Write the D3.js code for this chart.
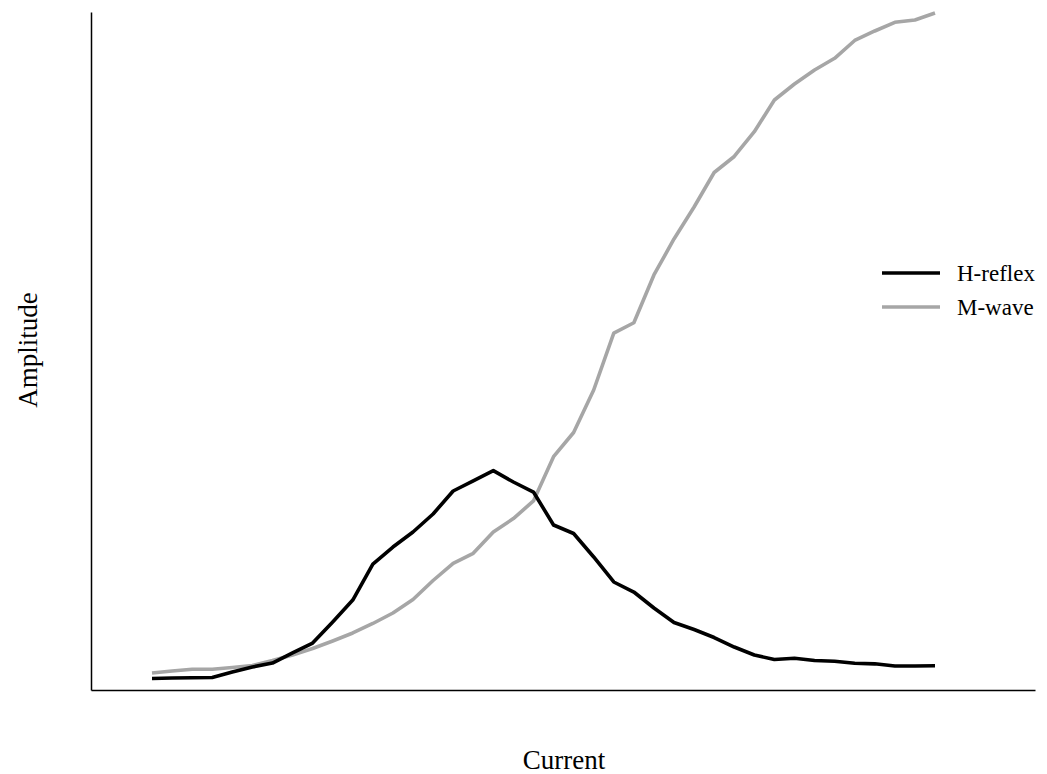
<!DOCTYPE html>
<html>
<head>
<meta charset="utf-8">
<script src="https://cdn.jsdelivr.net/npm/d3@7"></script>
<style>
  html, body { margin: 0; padding: 0; background: #fff; }
  svg { display: block; }
  text { font-family: "Liberation Serif", "Times New Roman", serif; fill: #000; }
</style>
</head>
<body>
<svg id="chart" width="1047" height="774"></svg>
<script>
// Recruitment curve: response amplitude (arbitrary units) at 40 stimulus current steps
const steps = d3.range(1, 41);
const hReflex = [
  1.70, 1.77, 1.81, 1.84, 2.65, 3.39, 3.98, 5.46, 6.93, 10.03,
  13.27, 18.58, 21.09, 23.30, 25.96, 29.35, 30.83, 32.35, 30.68, 29.20,
  24.34, 23.08, 19.62, 15.93, 14.45, 12.09, 9.96, 8.92, 7.74, 6.34,
  5.16, 4.50, 4.68, 4.35, 4.23, 3.94, 3.86, 3.54, 3.54, 3.57
];
const mWave = [
  2.51, 2.80, 3.05, 3.07, 3.32, 3.61, 4.35, 5.16, 6.12, 7.23,
  8.41, 9.81, 11.36, 13.35, 16.15, 18.69, 20.16, 23.30, 25.29, 27.88,
  34.41, 37.98, 44.25, 52.65, 54.17, 61.21, 66.52, 71.24, 76.33, 78.69,
  82.35, 87.02, 89.38, 91.45, 93.17, 95.80, 97.20, 98.48, 98.82, 99.85
];
const seriesNames = ["H-reflex", "M-wave"];
const seriesColors = ["#000000", "#a6a6a6"];
const axisTitles = { x: "Current", y: "Amplitude" };

const svg = d3.select("#chart");

// Plot frame
const frame = { left: 91, right: 1035, top: 12, bottom: 690 };

const x = d3.scalePoint()
  .domain(steps)
  .range([152, 935]);

const y = d3.scaleLinear()
  .domain([0, 100])
  .range([frame.bottom, frame.top]);

// Axes: plain lines, no ticks or labels
const xAxis = d3.axisBottom(d3.scaleLinear().range([frame.left, frame.right]))
  .tickValues([]).tickSizeOuter(0);
svg.append("g")
  .attr("transform", `translate(0,${frame.bottom})`)
  .call(xAxis)
  .select(".domain").attr("stroke", "#000").attr("stroke-width", 1.5);

const yAxis = d3.axisLeft(d3.scaleLinear().range([frame.bottom, frame.top]))
  .tickValues([]).tickSizeOuter(0);
svg.append("g")
  .attr("transform", `translate(${frame.left},0)`)
  .call(yAxis)
  .select(".domain").attr("stroke", "#000").attr("stroke-width", 1.5);

// Series lines
const line = d3.line()
  .x((d, i) => x(steps[i]))
  .y(d => y(d));

const series = [hReflex, mWave];
// draw M-wave first so H-reflex sits on top where they overlap at low currents
[1, 0].forEach(k => {
  svg.append("path")
    .datum(series[k])
    .attr("fill", "none")
    .attr("stroke", seriesColors[k])
    .attr("stroke-width", 3.6)
    .attr("stroke-linejoin", "round")
    .attr("d", line);
});

// Legend
const legend = svg.append("g").attr("transform", "translate(882,273)");
seriesNames.forEach((name, k) => {
  const g = legend.append("g").attr("transform", `translate(0,${k * 34})`);
  g.append("line")
    .attr("x1", 0).attr("x2", 58)
    .attr("y1", 0).attr("y2", 0)
    .attr("stroke", seriesColors[k])
    .attr("stroke-width", 3.6);
  g.append("text")
    .attr("x", 75).attr("y", 0)
    .attr("dy", "0.35em")
    .attr("font-size", 23)
    .text(name);
});

// Axis titles
svg.append("text")
  .attr("x", 564).attr("y", 760)
  .attr("text-anchor", "middle")
  .attr("dy", "0.35em")
  .attr("font-size", 27)
  .text(axisTitles.x);

svg.append("text")
  .attr("transform", "translate(28,350) rotate(-90)")
  .attr("text-anchor", "middle")
  .attr("dy", "0.35em")
  .attr("font-size", 27)
  .text(axisTitles.y);
</script>
</body>
</html>
